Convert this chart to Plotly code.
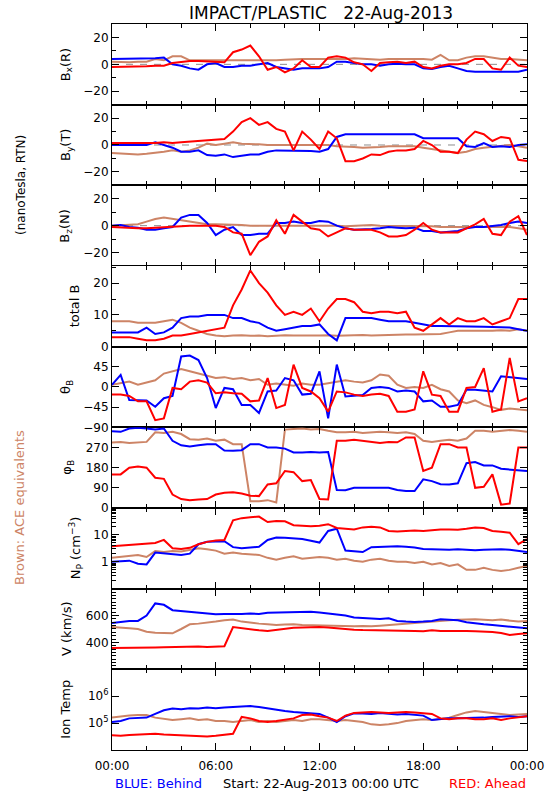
import plotly.graph_objects as go
from plotly.subplots import make_subplots

# ---------------- data (hours since 22-Aug-2013 00:00 UTC, every 30 min) ----------------
HOURS = [i * 0.5 for i in range(49)]

BX_BLUE = [4, 4, 4, 4, 4.5, 4.5, 5, 0, -1, -3, -4, 0,
           1, -2, -2, -1, -1, 0, 1, -2, -3, -4, -3, -3,
           -3, -2, 2, 2, 1, 0, 0, -1, 0, 0.5, 0, 0,
           -3, -3.5, -2, -1, -3, -5, -5.5, -5.5, -6, -5.5, -5.5, -5.5,
           -4]
BX_RED = [-2, -2, -2, -1.5, -1.5, -1, -1, 1, 2, 2.5, 2.5, 2,
          2, 1.5, 9, 11, 14, 6, -4, -2, -6, -3, 3, -2,
          -2, 5, 6, 5, 1.5, 0, -5, 1, 1.5, 2, 1, 2,
          -2, -3, -1, 0, 0, 1, 4, 4, -3, -4, 5, -1,
          -2]
BX_BROWN = [2, 1.5, 1.5, 2, 2, 4, 3, 6, 6, 3, 3, 3,
            3, 2.5, 3, 3, 3, 3, 3, 3, 3.5, 4, 4, 4,
            4, 3.5, 4, 4, 4.5, 4, 4, 3.5, 4, 4, 4.5, 4,
            4, 3.5, 7, 3, 3, 5, 6, 6, 5, 4, 4, 3.5,
            3]

BY_BLUE = [0, 0, 0.5, 0, 0, 2, 0, -2, -5, -5, -4, -7.5,
           -8, -7, -9, -8, -7, -7, -5, -4, -4, -4.5, -4.5, -4.5,
           -5, -3, 6, 8, 8, 8, 8, 8, 8, 8, 8, 8,
           5, 5, 5, 5.5, 5, -1, -1.5, 1.5, -1.5, -1, -1.5, 0,
           0.5]
BY_RED = [1.5, 1.5, 1, 1.5, 1.5, 1.5, 2, 1.5, 2, 2.5, 3, 4,
          4.5, 4.5, 10, 17, 20, 15, 17, 12, 10, -4, 10, 4,
          -3, 10, 5, -12, -12, -10, -7, -7.5, -5, -4, -4, -3,
          3, 0, -5, -5, -6, 4, 10, 8, 3, 6, 5, -11,
          -12]
BY_BROWN = [-6, -6.5, -7, -7, -6.5, -6, -5, -4, -5, -4, -2, 1,
            0, 1, 2, 1, 1, 0.5, 0, 0, 0.5, 0, 0.5, 0.5,
            0.5, 0, -1, -1, -1.5, -2, -2, -1.5, -1, -1, -1, -1,
            -2, -3, -4, -5, -6, -5, -3, -2, -1.5, -1, 0, -1,
            -2]

BZ_BLUE = [0, 0.5, -1, -1.5, -3, -3, -2, -1, 6, 8, 8, 2,
           -7, -3, -1, -7, -7, -6, -6, 2, 2, 3, 2, 2,
           3.5, 3, 0, -2, -3, -3, -2.5, -2, -1, -1.5, -2, -1.5,
           -4, -4, -5, -4.5, -4, -2, -1, -1, -0.5, 0.5, 2, 3,
           2]
BZ_RED = [-1, -1.5, -1.5, -2, -2, -1.5, -1, -1, 0, 0, 0, 0,
          0, -1, -5, -6, -22, -12, -8, 4, -6, 8, 3, -2,
          -3, -8, -5, -2, -3, -3, -3, -5, -8, -8, -7, -3,
          2, -3, -5, -5, -5, -2, 1, 5, -6, -7, 3, 7,
          -7]
BZ_BROWN = [0, 0.5, 0.5, 1, 3, 5, 6, 5, 4, 3, 2, 1,
            1, 1, 1, 0.5, 0, 0, 0, 0, 0.5, 0, 0, 0,
            0, 0, 0, -0.5, 0, 0, 0.5, 0, 0, -0.5, 0, 0,
            -0.5, -0.5, -1, -1, -1, -1, -0.5, -1, -1, -1, -1, -2,
            -3]

BT_BLUE = [4.5, 4.5, 4.5, 4.5, 6, 4, 4.5, 6, 9, 9.5, 9.5, 10,
           10, 10, 9, 9, 8, 7.5, 6, 5, 5.5, 6, 6.5, 6.5,
           7, 4, 2, 9, 9, 9, 9, 8.5, 8, 8, 8, 7.5,
           7, 6.5, 6.5, 6.5, 6.5, 6.3, 6.3, 6.3, 6.2, 6.2, 6, 5.5,
           5]
BT_RED = [3, 3, 3, 2.5, 2, 2, 2.5, 3.5, 3.5, 4, 4.5, 5,
          5.5, 6, 13, 18, 24, 20, 17, 13, 10, 11, 10, 12,
          8, 12, 15, 15, 14, 11, 10.5, 11, 11, 10.5, 11, 6,
          5, 7, 9, 7, 9, 8, 8, 9, 7, 8, 9, 15,
          15]
BT_BROWN = [8, 8, 8, 7.5, 7.5, 7.5, 8, 8.5, 7.5, 6, 5, 4,
            3.5, 3.3, 3.5, 3.6, 3.4, 3.5, 3.3, 3.5, 3.6, 3.5, 3.4, 3.5,
            3.5, 3.6, 3.4, 3.5, 3.5, 3.7, 3.5, 3.6, 3.8, 3.7, 3.8, 3.8,
            3.8, 4, 4, 4.5, 5, 5, 5, 4.8, 5, 5.2, 5, 5.5,
            5]

TH_BLUE = [5, 27, -29, -29, -30, -44, -25, -20, 68, 70, 60, 20,
           -47, -2, -5, -40, -40, -58, -10, -8, 20, 15, -17, -15,
           35, -70, 50, -21, -20, -18, -2, 0, -2, -10, -8, -10,
           -32, -30, -44, -44, -40, -6, -6, -8, -10, 24, 22, 20,
           18]
TH_RED = [-17, -17, -20, -32, -32, -74, -70, -2, -5, 12, 15, 10,
          -14, -12, -14, -15, -32, -30, 20, -47, -40, 50, -2, -10,
          -25, -55, -10, -12, -17, -20, -17, -15, -20, -55, -55, -50,
          35, -17, -20, -55, -55, -2, 0, 42, -55, -50, 65, -32,
          -25]
TH_BROWN = [5, 8, 12, 5, 10, 15, 30, 35, 40, 35, 30, 25,
            20, 22, 18, 20, 15, 18, 5, 8, 5, 3, 8, 5,
            5, 8, 12, 15, 12, 10, 15, 28, 25, 5, -2, 0,
            -2, 5, -5, -10, -30, -36, -30, -40, -45, -51, -48, -50,
            -52]

PHI_BLUE = [343, 340, 355, 358, 355, 350, 355, 300, 280, 275, 280, 285,
            285, 256, 255, 258, 285, 285, 270, 270, 265, 248, 248, 250,
            248, 250, 80, 79, 90, 90, 92, 92, 90, 80, 76, 76,
            128, 120, 106, 105, 110, 200, 205, 190, 190, 175, 172, 170,
            165]
PHI_RED = [150, 150, 180, 185, 180, 135, 130, 60, 40, 35, 38, 40,
           60, 68, 70, 65, 55, 53, 105, 110, 165, 160, 120, 125,
           40, 38, 300, 300, 305, 300, 293, 290, 295, 293, 315, 315,
           165, 180, 285, 285, 270, 270, 90, 95, 150, 15, 20, 270,
           270]
PHI_BROWN = [292, 295, 290, 292, 295, 338, 335, 340, 330, 307, 305, 310,
             300, 305, 285, 285, 30, 30, 35, 25, 350, 353, 355, 350,
             353, 345, 338, 338, 340, 335, 338, 340, 338, 335, 338, 330,
             300, 295, 300, 305, 300, 310, 345, 345, 340, 345, 348, 345,
             340]

NP_BLUE = [1.0, 1.05, 1.1, 0.85, 0.8, 2.2, 2.1, 1.9, 1.8, 2.0, 4.5, 5.5,
           5.5, 5.8, 3.5, 3.2, 3.4, 3.6, 6.5, 8, 7.8, 7.5, 7, 6,
           5.2, 14, 17, 2.6, 2.4, 2.3, 3.5, 3.6, 3.5, 3.8, 3.6, 3.4,
           3.0, 2.9, 2.9, 2.8, 2.9, 2.8, 2.7, 2.8, 2.9, 2.9, 2.8, 2.6,
           2.3]
NP_RED = [3.8, 4.0, 4.2, 4.3, 4.6, 5.0, 6.5, 3.2, 3.0, 3.3, 4.5, 5.5,
          6.2, 6.5, 35, 42, 45, 48, 30, 33, 32, 23, 22, 21,
          22, 25, 18, 17, 16, 19, 20, 19, 14, 13.5, 14, 14.5,
          14, 15, 16, 16, 15.5, 17, 19, 18, 14, 13, 12, 4.5,
          7]
NP_BROWN = [1.4, 1.5, 1.6, 1.8, 1.5, 2.5, 2.3, 2.5, 2.4, 2.8, 3.2, 2.9,
            2.6, 2.0, 2.2, 2.0, 1.9, 1.8, 1.4, 1.2, 1.4, 1.6, 1.3, 1.4,
            1.5, 1.4, 1.2, 1.3, 1.1, 1.0, 1.2, 1.3, 1.1, 1.0, 1.0, 0.9,
            1.0, 0.8, 0.9, 0.7, 0.8, 0.5, 0.5, 0.6, 0.5, 0.45, 0.5, 0.6,
            0.7]

V_BLUE = [545, 555, 560, 560, 600, 690, 680, 640, 635, 630, 625, 615,
          610, 612, 610, 612, 615, 612, 620, 622, 625, 628, 630, 628,
          622, 615, 605, 600, 585, 580, 578, 575, 580, 560, 555, 552,
          555, 560, 572, 570, 565, 550, 540, 535, 530, 525, 520, 515,
          505]
V_RED = [358, 358, 360, 360, 362, 362, 364, 366, 368, 372, 370, 366,
         368, 372, 515, 505, 500, 490, 485, 495, 505, 510, 512, 515,
         515, 512, 505, 500, 495, 492, 490, 490, 490, 488, 486, 485,
         484, 490, 486, 484, 484, 485, 484, 483, 478, 470, 455, 462,
         468]
V_BROWN = [515, 508, 505, 500, 480, 472, 470, 468, 500, 535, 540, 545,
           555, 565, 570, 555, 545, 540, 535, 530, 533, 535, 530, 528,
           525, 522, 520, 518, 520, 522, 520, 525, 530, 535, 545, 550,
           555, 558, 560, 565, 568, 570, 572, 568, 565, 570, 560, 555,
           560]

T_BLUE = [1.1e5, 1.2e5, 1.5e5, 1.6e5, 1.6e5, 2.2e5, 3.0e5, 3.5e5, 3.3e5, 3.6e5, 3.5e5, 3.8e5,
          3.6e5, 3.8e5, 3.9e5, 4.0e5, 4.3e5, 4.0e5, 3.5e5, 3.0e5, 2.8e5, 2.6e5, 2.5e5, 2.4e5,
          2.2e5, 1.6e5, 1.1e5, 1.8e5, 2.3e5, 2.3e5, 2.2e5, 2.4e5, 2.2e5, 2.1e5, 2.2e5, 2.0e5,
          1.9e5, 1.3e5, 1.4e5, 1.5e5, 1.5e5, 1.5e5, 1.6e5, 1.6e5, 1.7e5, 1.8e5, 1.8e5, 1.7e5,
          1.8e5]
T_RED = [3.5e4, 3.4e4, 3.6e4, 3.7e4, 3.9e4, 4.0e4, 3.8e4, 3.7e4, 3.4e4, 3.5e4, 3.3e4, 3.2e4,
         3.4e4, 3.6e4, 4.0e4, 1.7e5, 1.5e5, 1.2e5, 1.1e5, 1.2e5, 1.3e5, 1.5e5, 2.0e5, 2.1e5,
         1.8e5, 1.6e5, 1.2e5, 1.9e5, 2.4e5, 2.5e5, 2.6e5, 2.5e5, 2.4e5, 2.5e5, 2.6e5, 2.5e5,
         2.4e5, 2.2e5, 1.5e5, 1.4e5, 1.5e5, 1.5e5, 1.4e5, 1.4e5, 1.5e5, 1.3e5, 1.5e5, 1.6e5,
         1.8e5]
T_BROWN = [1.6e5, 1.8e5, 1.9e5, 2.0e5, 2.0e5, 1.6e5, 1.4e5, 1.3e5, 1.4e5, 1.5e5, 1.3e5, 1.4e5,
           1.2e5, 1.2e5, 1.1e5, 1.2e5, 1.3e5, 1.1e5, 1.2e5, 1.1e5, 1.2e5, 1.3e5, 1.2e5, 1.4e5,
           1.4e5, 1.3e5, 1.2e5, 1.3e5, 1.2e5, 1.1e5, 9e4, 8.5e4, 9e4, 1.0e5, 1.2e5, 1.3e5,
           1.4e5, 1.3e5, 1.4e5, 1.6e5, 2.0e5, 2.5e5, 2.8e5, 2.6e5, 2.4e5, 2.2e5, 2.0e5, 2.1e5,
           2.2e5]

X_TICKS = [0, 6, 12, 18, 24]
X_LABELS = ["00:00", "06:00", "12:00", "18:00", "00:00"]

PANELS = [
    (BX_BROWN, BX_BLUE, BX_RED),
    (BY_BROWN, BY_BLUE, BY_RED),
    (BZ_BROWN, BZ_BLUE, BZ_RED),
    (BT_BROWN, BT_BLUE, BT_RED),
    (TH_BROWN, TH_BLUE, TH_RED),
    (PHI_BROWN, PHI_BLUE, PHI_RED),
    (NP_BROWN, NP_BLUE, NP_RED),
    (V_BROWN, V_BLUE, V_RED),
    (T_BROWN, T_BLUE, T_RED),
]

BROWN = "#cd8466"
BLUE = "#0000ff"
RED = "#ff0000"
FONT = "DejaVu Sans"

fig = make_subplots(rows=9, cols=1, shared_xaxes=True, vertical_spacing=0)

for i, (br, bl, rd) in enumerate(PANELS, start=1):
    for ys, col in ((br, BROWN), (bl, BLUE), (rd, RED)):
        fig.add_trace(go.Scatter(x=HOURS, y=ys, mode="lines",
                                 line=dict(color=col, width=2),
                                 showlegend=False, hoverinfo="skip"),
                      row=i, col=1)

axis_common = dict(showline=True, linecolor="black", linewidth=1, mirror="allticks",
                   ticks="inside", ticklen=7, tickcolor="black", showgrid=False,
                   zeroline=False, tickfont=dict(family=FONT, size=12, color="black"))

for i in range(1, 10):
    fig.update_xaxes(range=[0, 24], tickmode="array", tickvals=X_TICKS, ticktext=X_LABELS,
                     minor=dict(ticks="inside", ticklen=4, tick0=0, dtick=2, tickcolor="black"),
                     showticklabels=(i == 9), ticklabelstandoff=5, row=i, col=1, **axis_common)

b_ax = dict(range=[-30, 30], tickmode="array", tickvals=[-20, 0, 20],
            ticktext=["\u221220", "0", "20"],
            minor=dict(ticks="inside", ticklen=4, tick0=0, dtick=10, tickcolor="black"))
for r in (1, 2, 3):
    fig.update_yaxes(row=r, col=1, **b_ax, **axis_common)

fig.update_yaxes(row=4, col=1, range=[0, 25.4], tickmode="array", tickvals=[0, 10, 20],
                 ticktext=["0", "10", "20"],
                 minor=dict(ticks="inside", ticklen=4, tick0=0, dtick=5, tickcolor="black"),
                 **axis_common)
fig.update_yaxes(row=5, col=1, range=[-90, 90], tickmode="array", tickvals=[-90, -45, 0, 45],
                 ticktext=["\u221290", "\u221245", "0", "45"], **axis_common)
fig.update_yaxes(row=6, col=1, range=[0, 360], tickmode="array", tickvals=[0, 90, 180, 270],
                 ticktext=["0", "90", "180", "270"], **axis_common)
np_minor = [m * d for d in (0.1, 1, 10) for m in range(2, 10)]
fig.update_yaxes(row=7, col=1, type="log", range=[-1, 2], tickmode="array", tickvals=[1, 10],
                 ticktext=["1", "10"],
                 minor=dict(ticks="inside", ticklen=4, tickmode="array", tickvals=np_minor,
                            tickcolor="black"),
                 **axis_common)
fig.update_yaxes(row=8, col=1, range=[200, 800], tickmode="array", tickvals=[400, 600],
                 ticktext=["400", "600"],
                 minor=dict(ticks="inside", ticklen=4, tick0=200, dtick=25, tickcolor="black"),
                 **axis_common)
fig.update_yaxes(row=9, col=1, type="log", range=[4, 7], tickmode="array", tickvals=[1e5, 1e6],
                 ticktext=["10<sup>5</sup>", "10<sup>6</sup>"], **axis_common)

# dashed zero lines in the field-component panels
for r in (1, 2, 3):
    yref = "y" if r == 1 else f"y{r}"
    fig.add_shape(type="line", xref="paper", x0=0, x1=1, yref=yref, y0=0, y1=0,
                  line=dict(color="#8c8c8c", width=1, dash="7px,7px"), layer="below")

W, H, L, R, T, B = 550, 800, 112, 23, 24, 50
PW, PH = W - L - R, H - T - B


def px_x(p):
    return (p - L) / PW


def px_y(p):
    return (H - B - p) / PH


labels = [
    ("B<sub>x</sub>(R)", 66), ("B<sub>y</sub>(T)", 66), ("B<sub>z</sub>(N)", 66),
    ("total B", 74), ("\u03b8<sub>B</sub>", 66), ("\u03c6<sub>B</sub>", 68),
    ("N<sub>P</sub> (cm<sup>\u22123</sup>)", 76), ("V (km/s)", 66), ("Ion Temp", 66),
]
ann = []
for i, (txt, xp) in enumerate(labels, start=1):
    yref = "y domain" if i == 1 else f"y{i} domain"
    ann.append(dict(text=txt, x=px_x(xp), xref="paper", y=0.5, yref=yref, textangle=-90,
                    showarrow=False, xanchor="center", yanchor="middle",
                    font=dict(family=FONT, size=13, color="black")))

ann.append(dict(text="IMPACT/PLASTIC   22-Aug-2013", x=px_x(321), y=px_y(13), xref="paper",
                yref="paper", showarrow=False, xanchor="center", yanchor="middle",
                font=dict(family=FONT, size=17, color="black")))
ann.append(dict(text="(nanoTesla, RTN)", x=px_x(21), y=px_y(185), xref="paper", yref="paper",
                textangle=-90, showarrow=False, xanchor="center", yanchor="middle",
                font=dict(family=FONT, size=12, color="black")))
ann.append(dict(text="Brown: ACE equivalents", x=px_x(19), y=px_y(508), xref="paper",
                yref="paper", textangle=-90, showarrow=False, xanchor="center",
                yanchor="middle", font=dict(family=FONT, size=13, color=BROWN)))
ann.append(dict(text="BLUE: Behind", x=px_x(113), y=px_y(783), xref="paper", yref="paper",
                showarrow=False, xanchor="left", yanchor="middle",
                font=dict(family=FONT, size=13, color=BLUE)))
ann.append(dict(text="Start: 22-Aug-2013 00:00 UTC", x=px_x(321), y=px_y(783), xref="paper",
                yref="paper", showarrow=False, xanchor="center", yanchor="middle",
                font=dict(family=FONT, size=13, color="black")))
ann.append(dict(text="RED: Ahead", x=px_x(528), y=px_y(783), xref="paper", yref="paper",
                showarrow=False, xanchor="right", yanchor="middle",
                font=dict(family=FONT, size=13, color=RED)))

fig.update_layout(width=W, height=H, margin=dict(l=L, r=R, t=T, b=B, autoexpand=False),
                  paper_bgcolor="white", plot_bgcolor="white", annotations=ann,
                  showlegend=False, font=dict(family=FONT, size=12, color="black"))

fig.write_html("out.html", config={"displayModeBar": False},
               post_script="document.body.style.margin='0';document.body.style.overflow='hidden';")
